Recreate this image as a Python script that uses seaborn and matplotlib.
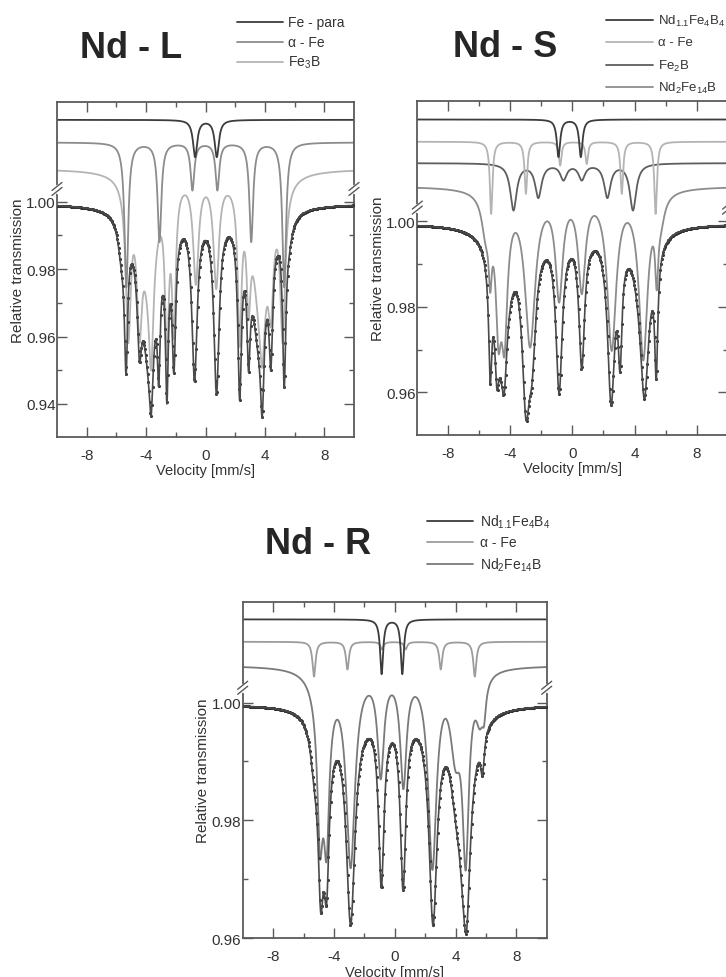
import numpy as np
import pandas as pd
import matplotlib
matplotlib.use('Agg')
import matplotlib.pyplot as plt
from matplotlib.lines import Line2D
import seaborn as sns

# Values.
# *_pos / *_val : velocity [mm/s] and transmission at each absorption minimum
# *_hw          : half width of the line at that minimum
# *_mx_v/*_mx_t : extra points on the curve (maxima between lines, wings)
# *_bg_pos/_hw  : broad underlying absorption
# ---- Nd - L ----
L_fit_base = 0.9995
L_fit_pos = [-5.35, -4.45, -3.66, -3.15, -2.6, -2.13, -0.74, 0.74, 2.3, 2.9, 3.82, 4.4, 5.3]
L_fit_val = [0.949, 0.952, 0.9364, 0.947, 0.944, 0.953, 0.9473, 0.9434, 0.9437, 0.952, 0.9364, 0.952, 0.9465]
L_fit_hw = [0.13, 0.18, 0.14, 0.11, 0.12, 0.15, 0.22, 0.22, 0.15, 0.13, 0.14, 0.15, 0.13]
L_fit_mx_v = [-5.0, -4.07, -3.37, -2.88, -2.36, -1.46, 0.0, 1.46, 2.63, 3.37, 4.16, 5.0,
              -6.14, -5.8, 5.95, -7.0, 7.0]
L_fit_mx_t = [0.977, 0.962, 0.958, 0.961, 0.957, 0.9864, 0.9855, 0.9864, 0.957, 0.9686, 0.960, 0.9706,
              0.9958, 0.984, 0.9958, 0.9992, 0.9992]
L_fit_bg_pos = [-5.65, -3.8, 3.6, 5.6]
L_fit_bg_hw = [0.3, 0.6, 0.6, 0.3]

L_para_base = 1.0243
L_para_pos = [-0.70, 0.76]
L_para_val = [1.0132, 1.0132]
L_para_hw = [0.17, 0.17]

L_afe_base = 1.0176
L_afe_pos = [-5.33, -3.10, -0.88, 0.80, 3.08, 5.30]
L_afe_val = [0.9746, 0.988, 1.0033, 1.0033, 0.988, 0.9746]
L_afe_hw = [0.15, 0.15, 0.15, 0.15, 0.15, 0.15]

L_fe3b_base = 1.0098
L_fe3b_pos = [-5.2, -4.45, -3.66, -2.6, -2.13, -0.65, 0.72, 2.3, 2.9, 3.82, 4.4, 5.2]
L_fe3b_val = [0.958, 0.958, 0.950, 0.955, 0.962, 0.976, 0.9746, 0.957, 0.965, 0.950, 0.962, 0.958]
L_fe3b_hw = [0.2, 0.2, 0.18, 0.15, 0.15, 0.22, 0.22, 0.15, 0.15, 0.18, 0.2, 0.2]
L_fe3b_mx_v = [-1.35, 0.03, 1.42, -4.1, -2.35, 3.35, 4.1, -7.0, 7.0]
L_fe3b_mx_t = [0.9988, 0.998, 0.999, 0.9745, 0.9696, 0.972, 0.9717, 1.0093, 1.0093]
L_fe3b_bg_pos = [-3.8, 3.7]
L_fe3b_bg_hw = [0.6, 0.6]

# ---- Nd - S ----
S_fit_base = 0.9995
S_fit_pos = [-5.3, -4.87, -4.4, -3.0, -2.6, -0.86, 0.6, 2.49, 3.07, 4.64, 5.4]
S_fit_val = [0.9627, 0.9611, 0.9596, 0.9538, 0.962, 0.9592, 0.9651, 0.958, 0.9658, 0.9584, 0.9627]
S_fit_hw = [0.12, 0.15, 0.22, 0.3, 0.3, 0.25, 0.22, 0.28, 0.15, 0.3, 0.12]
S_fit_mx_v = [-5.13, -4.6, -3.6, -1.55, -0.04, 1.46, 2.85, 3.56, 5.15, -5.94, -5.73, 5.86, 6.18, -7.0, 7.0]
S_fit_mx_t = [0.970, 0.963, 0.9814, 0.9939, 0.9924, 0.9939, 0.9709, 0.9869, 0.9799, 0.9966, 0.992, 0.992,
              0.9976, 0.9992, 0.9992]
S_fit_bg_pos = [-5.6, -4.6, 4.6, 5.7]
S_fit_bg_hw = [0.3, 0.6, 0.6, 0.3]

S_nd114_base = 1.0238
S_nd114_pos = [-0.90, 0.54]
S_nd114_val = [1.0150, 1.0150]
S_nd114_hw = [0.13, 0.13]

S_afe_base = 1.0186
S_afe_pos = [-5.24, -3.0, -0.79, 0.92, 3.18, 5.36]
S_afe_val = [1.0017, 1.0064, 1.013, 1.0134, 1.0064, 1.0017]
S_afe_hw = [0.1, 0.1, 0.1, 0.1, 0.1, 0.1]

S_fe2b_base = 1.0136
S_fe2b_pos = [-3.8, -2.2, -0.58, 0.6, 2.25, 3.9]
S_fe2b_val = [1.0025, 1.0054, 1.0095, 1.0095, 1.0054, 1.0025]
S_fe2b_hw = [0.25, 0.25, 0.25, 0.25, 0.25, 0.25]

S_nd2_base = 1.0082
S_nd2_pos = [-5.3, -4.77, -4.38, -2.73, -0.86, 0.6, 2.53, 4.57, 5.43]
S_nd2_val = [0.984, 0.9694, 0.9686, 0.9701, 0.9803, 0.9822, 0.9694, 0.9675, 0.984]
S_nd2_hw = [0.12, 0.2, 0.22, 0.4, 0.28, 0.28, 0.35, 0.32, 0.12]
S_nd2_mx_v = [-4.58, -3.7, -1.61, 0.0, 1.46, 3.56, 5.21, -5.5, -5.73, -6.05, 5.97, 6.29, -7.0, 7.0]
S_nd2_mx_t = [0.9715, 0.9966, 1.0030, 1.0029, 1.0030, 0.9998, 0.9931, 0.9888, 0.9998, 1.0056, 1.0021, 1.0049,
              1.0077, 1.0077]
S_nd2_bg_pos = [-5.6, -4.6, 4.5, 5.7]
S_nd2_bg_hw = [0.3, 0.5, 0.5, 0.3]

# ---- Nd - R ----
R_fit_base = 0.9997
R_fit_pos = [-4.87, -4.48, -2.9, -0.88, 0.55, 2.52, 4.0, 4.74, 5.77]
R_fit_val = [0.9638, 0.9655, 0.9627, 0.9684, 0.9681, 0.9621, 0.979, 0.9616, 0.9873]
R_fit_hw = [0.2, 0.2, 0.35, 0.22, 0.22, 0.32, 0.4, 0.25, 0.15]
R_fit_mx_v = [-4.7, -3.7, -1.54, -0.09, 1.38, 3.51, 5.22, 5.55, -5.86, -5.53, -5.2, 6.1, -7.0, 7.0]
R_fit_mx_t = [0.9689, 0.9864, 0.9946, 0.9929, 0.9932, 0.9898, 0.9847, 0.990, 0.9966, 0.991, 0.9825, 0.996,
              0.9994, 0.9994]
R_fit_bg_pos = [-5.3, -4.7, 4.6, 5.5]
R_fit_bg_hw = [0.3, 0.5, 0.5, 0.3]

R_nd114_base = 1.0141
R_nd114_pos = [-0.86, 0.5]
R_nd114_val = [1.0048, 1.0048]
R_nd114_hw = [0.12, 0.12]

R_afe_base = 1.0103
R_afe_pos = [-5.31, -3.11, -0.84, 0.72, 3.03, 5.27]
R_afe_val = [1.0044, 1.0056, 1.0090, 1.0090, 1.0056, 1.0044]
R_afe_hw = [0.12, 0.12, 0.12, 0.12, 0.12, 0.12]

R_nd2_base = 1.0063
R_nd2_pos = [-4.92, -4.48, -2.9, -0.92, 0.57, 2.48, 4.0, 4.67, 5.88]
R_nd2_val = [0.9735, 0.9731, 0.9723, 0.987, 0.9853, 0.9715, 0.988, 0.9715, 0.9949]
R_nd2_hw = [0.2, 0.2, 0.35, 0.25, 0.25, 0.33, 0.4, 0.25, 0.15]
R_nd2_mx_v = [-4.7, -3.66, -1.58, -0.15, 1.38, 3.51, 5.33, -5.6, -6.4, 6.0, 6.5, -7.2, 7.2]
R_nd2_mx_t = [0.9774, 0.9941, 1.001, 1.0006, 1.0013, 0.9972, 0.9966, 1.0015, 1.0055, 1.001, 1.0055,
              1.006, 1.006]
R_nd2_bg_pos = [-5.4, -4.7, 5.6]
R_nd2_bg_hw = [0.3, 0.5, 0.3]

x_major = [-8, -4, 0, 4, 8]
x_minor = [-6, -2, 2, 6]


def spec(base, pos, val, hw, mx_v=(), mx_t=(), bg_pos=(), bg_hw=()):
    return dict(base=base, lines=list(pos) + list(bg_pos), hw=list(hw) + list(bg_hw),
                pv=list(pos) + list(mx_v), pt=list(val) + list(mx_t))


def curve(v, s):
    # Lorentzian lines; non-negative depths chosen so the curve runs through the read points
    lines = np.asarray(s['lines'], float)
    hw = np.asarray(s['hw'], float)
    lor = lambda x: 1.0 / (1.0 + ((np.asarray(x, float)[:, None] - lines[None, :]) / hw[None, :]) ** 2)
    A = lor(s['pv'])
    b = s['base'] - np.asarray(s['pt'], float)
    keep = np.ones(len(lines), bool)
    depth = np.zeros(len(lines))
    for _ in range(len(lines)):
        depth[:] = 0
        depth[keep] = np.linalg.lstsq(A[:, keep], b, rcond=None)[0]
        if (depth >= 0).all():
            break
        keep &= depth >= 0
    return s['base'] - lor(v) @ depth


sns.set_style('ticks')
plt.rcParams['font.family'] = ['Liberation Sans', 'DejaVu Sans']
plt.rcParams['mathtext.fontset'] = 'custom'
plt.rcParams['mathtext.rm'] = 'Liberation Sans'
plt.rcParams['mathtext.it'] = 'Liberation Sans:italic'
plt.rcParams['mathtext.bf'] = 'Liberation Sans:bold'
plt.rcParams['axes.unicode_minus'] = False

W, H = 726, 978
fig = plt.figure(figsize=(W / 100, H / 100), dpi=100)


def fx(px):
    return px / W


def fy(py):
    return 1 - py / H


def add_ax(l, t, r, b):
    return fig.add_axes([fx(l), fy(b), fx(r) - fx(l), fy(t) - fy(b)])


v = np.linspace(-10, 10, 2001)
chan = np.linspace(-10, 10, 430)
SPINE = '#5a5a5a'


def panel(ax, fit, comps, ylim, ymajor, yminor, break_y):
    for s, color in comps:
        sns.lineplot(x=v, y=curve(v, s), ax=ax, color=color, lw=1.3, estimator=None)
    sns.scatterplot(x=chan, y=curve(chan, fit), ax=ax, s=5, color='#333333', linewidth=0, zorder=3)
    sns.lineplot(x=v, y=curve(v, fit), ax=ax, color='#4a4a4a', lw=1.2, estimator=None, zorder=4)
    ax.set_xlim(-10, 10)
    ax.set_ylim(*ylim)
    ax.set_xticks(x_major)
    ax.set_xticks(x_minor, minor=True)
    ax.set_xticklabels([str(t) for t in x_major])
    ax.set_yticks(ymajor)
    ax.set_yticks(yminor, minor=True)
    ax.set_yticklabels(['%.2f' % t for t in ymajor])
    ax.tick_params(which='both', direction='in', top=True, right=True, color=SPINE,
                   labelcolor='#333333', labelsize=11, width=1.0)
    ax.tick_params(axis='x', which='major', length=7, pad=8)
    ax.tick_params(axis='x', which='minor', length=3.5)
    ax.tick_params(axis='y', which='major', length=7, pad=1)
    ax.tick_params(axis='y', which='minor', length=3.5)
    for sp in ax.spines.values():
        sp.set_color(SPINE)
        sp.set_linewidth(1.3)
    ax.set_xlabel('Velocity [mm/s]', fontsize=10.5, color='#333333', labelpad=1)
    ax.set_ylabel('Relative transmission', fontsize=11, color='#333333', labelpad=1)
    # axis break marks
    bb = ax.get_position()
    wpx, hpx = bb.width * W, bb.height * H
    yb = (break_y - ylim[0]) / (ylim[1] - ylim[0])
    for xs in (0, 1):
        ax.plot([xs, xs], [yb - 3 / hpx, yb + 3 / hpx], transform=ax.transAxes,
                color='white', lw=2.5, clip_on=False, zorder=5)
        for off in (-2.5, 2.5):
            ax.plot([xs - 5 / wpx, xs + 5 / wpx], [yb + (off - 4) / hpx, yb + (off + 4) / hpx],
                    transform=ax.transAxes, color=SPINE, lw=1.0, clip_on=False, zorder=6)


def legend(x0, x1, xt, ys, labels, colors, size=10):
    for y, lab, c in zip(ys, labels, colors):
        fig.add_artist(Line2D([fx(x0), fx(x1)], [fy(y), fy(y)], color=c, lw=1.3))
        fig.text(fx(xt), fy(y), lab, fontsize=size, color='#333333', va='center', ha='left')


# ---- Nd - L ----
axL = add_ax(57, 103, 354, 438)
panel(axL, spec(L_fit_base, L_fit_pos, L_fit_val, L_fit_hw, L_fit_mx_v, L_fit_mx_t, L_fit_bg_pos, L_fit_bg_hw),
      [(spec(L_fe3b_base, L_fe3b_pos, L_fe3b_val, L_fe3b_hw, L_fe3b_mx_v, L_fe3b_mx_t,
             L_fe3b_bg_pos, L_fe3b_bg_hw), '#b4b4b4'),
       (spec(L_afe_base, L_afe_pos, L_afe_val, L_afe_hw), '#8c8c8c'),
       (spec(L_para_base, L_para_pos, L_para_val, L_para_hw), '#3c3c3c')],
      (0.9302, 1.0296), [0.94, 0.96, 0.98, 1.00], [0.95, 0.97, 0.99], 1.0038)
fig.text(fx(80), fy(58), 'Nd - L', fontsize=26, fontweight='bold', va='baseline')
legend(237, 283, 288, [23, 43, 63], ['Fe - para', '\u03b1 - Fe', r'Fe$_3$B'],
       ['#3c3c3c', '#8c8c8c', '#b4b4b4'])

# ---- Nd - S ----
axS = add_ax(417.3, 101.7, 727.6, 436)
panel(axS, spec(S_fit_base, S_fit_pos, S_fit_val, S_fit_hw, S_fit_mx_v, S_fit_mx_t, S_fit_bg_pos, S_fit_bg_hw),
      [(spec(S_nd2_base, S_nd2_pos, S_nd2_val, S_nd2_hw, S_nd2_mx_v, S_nd2_mx_t,
             S_nd2_bg_pos, S_nd2_bg_hw), '#8c8c8c'),
       (spec(S_fe2b_base, S_fe2b_pos, S_fe2b_val, S_fe2b_hw), '#5e5e5e'),
       (spec(S_afe_base, S_afe_pos, S_afe_val, S_afe_hw), '#b4b4b4'),
       (spec(S_nd114_base, S_nd114_pos, S_nd114_val, S_nd114_hw), '#3c3c3c')],
      (0.950, 1.0282), [0.96, 0.98, 1.00], [0.97, 0.99], 1.0032)
fig.text(fx(453), fy(57), 'Nd - S', fontsize=26, fontweight='bold', va='baseline')
legend(606, 653, 658, [21, 43, 66, 88],
       [r'Nd$_{1.1}$Fe$_4$B$_4$', '\u03b1 - Fe', r'Fe$_2$B', r'Nd$_2$Fe$_{14}$B'],
       ['#3c3c3c', '#b4b4b4', '#5e5e5e', '#8c8c8c'], size=9.5)

# ---- Nd - R ----
axR = add_ax(242.7, 602.7, 546.7, 939.3)
panel(axR, spec(R_fit_base, R_fit_pos, R_fit_val, R_fit_hw, R_fit_mx_v, R_fit_mx_t, R_fit_bg_pos, R_fit_bg_hw),
      [(spec(R_nd2_base, R_nd2_pos, R_nd2_val, R_nd2_hw, R_nd2_mx_v, R_nd2_mx_t,
             R_nd2_bg_pos, R_nd2_bg_hw), '#7a7a7a'),
       (spec(R_afe_base, R_afe_pos, R_afe_val, R_afe_hw), '#9c9c9c'),
       (spec(R_nd114_base, R_nd114_pos, R_nd114_val, R_nd114_hw), '#3c3c3c')],
      (0.960, 1.0171), [0.96, 0.98, 1.00], [0.97, 0.99], 1.0025)
fig.text(fx(265), fy(554), 'Nd - R', fontsize=26, fontweight='bold', va='baseline')
legend(427, 473, 480, [522, 543, 565],
       [r'Nd$_{1.1}$Fe$_4$B$_4$', '\u03b1 - Fe', r'Nd$_2$Fe$_{14}$B'],
       ['#3c3c3c', '#9c9c9c', '#7a7a7a'])

fig.savefig('out.png', dpi=100)
plt.close(fig)
